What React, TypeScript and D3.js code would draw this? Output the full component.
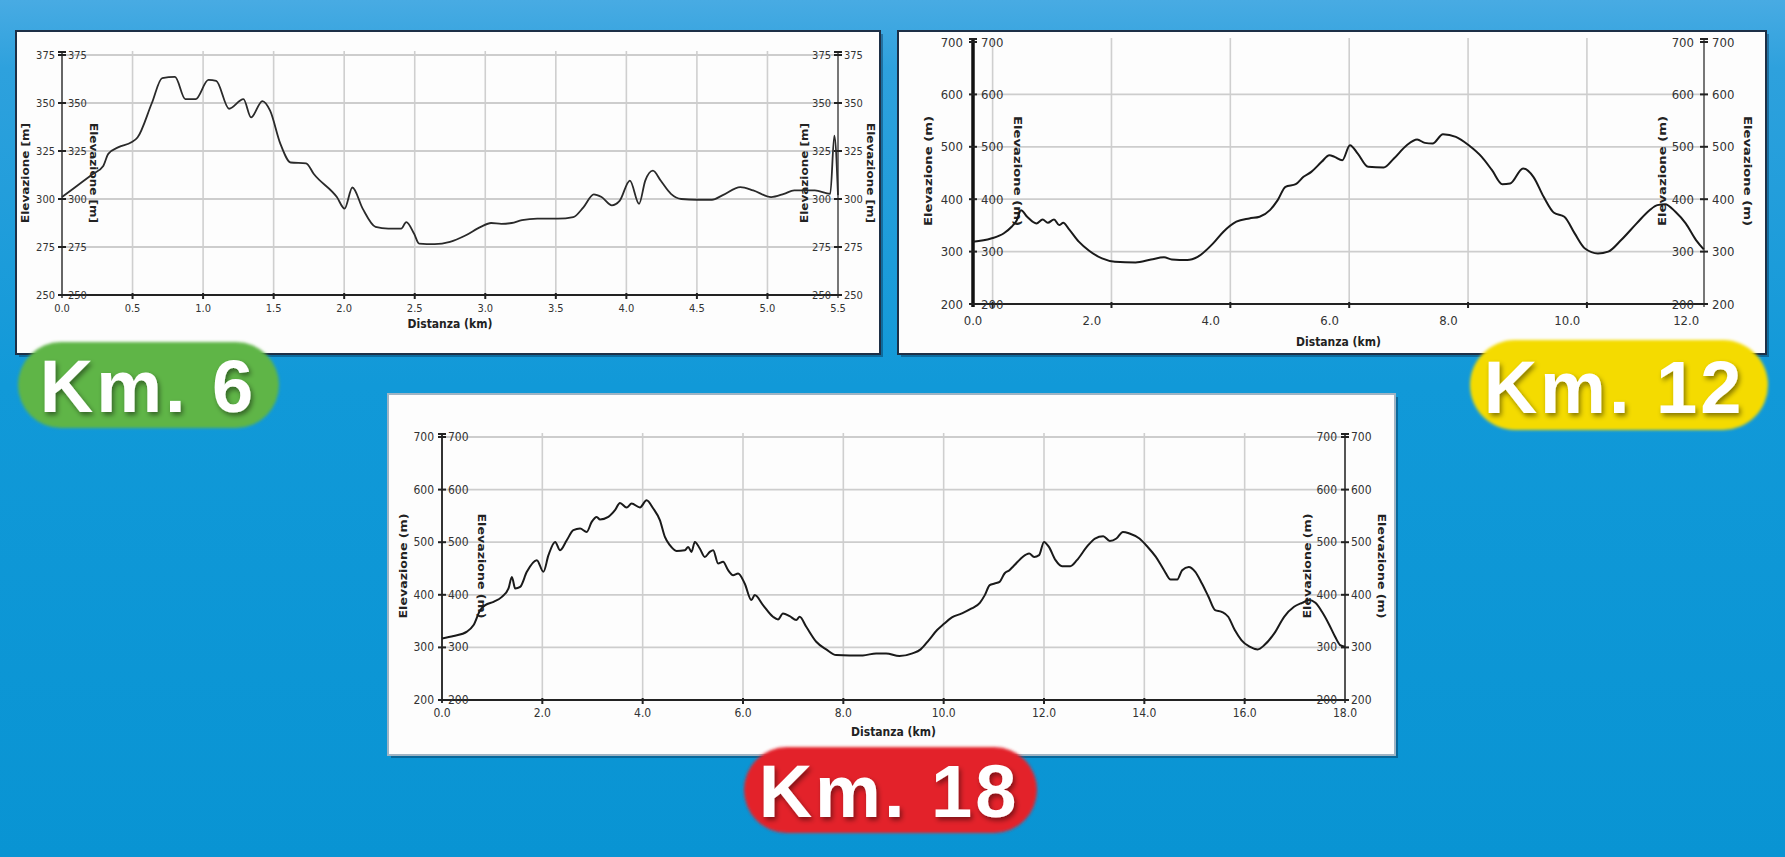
import React from 'react';
import * as d3 from 'd3';

// ---------- DATA ----------
const km6Distance = [
  0, 0.091, 0.219, 0.291, 0.328, 0.401, 0.492, 0.535, 0.637, 0.71,
  0.801, 0.874, 0.947, 1.038, 1.093, 1.184, 1.286, 1.34, 1.42, 1.475,
  1.548, 1.621, 1.73, 1.785, 1.948, 2.003, 2.058, 2.131, 2.222, 2.313,
  2.404, 2.44, 2.495, 2.531, 2.641, 2.75, 2.859, 2.968, 3.041, 3.114,
  3.187, 3.26, 3.369, 3.515, 3.624, 3.697, 3.769, 3.824, 3.897, 3.952,
  4.025, 4.09, 4.134, 4.188, 4.243, 4.316, 4.389, 4.498, 4.607, 4.68,
  4.808, 4.899, 5.026, 5.117, 5.19, 5.336, 5.445, 5.474, 5.5,
];
const km6Elevation = [
  301, 306, 313, 317, 323.5, 327, 329.5, 332, 350, 363,
  363.6, 352, 352, 362, 361.5, 347, 352, 342.5, 351, 346,
  328.7, 319, 318.6, 313, 301, 295, 306, 295, 285.5, 284.6,
  284.6, 288, 282, 276.8, 276.5, 277.7, 281, 285.5, 287.5, 287,
  287.5, 289, 289.8, 289.8, 290.6, 295.8, 302.4, 301, 296.7, 299,
  309.6, 297.5, 309.6, 314.8, 309.6, 302.7, 300, 299.6, 299.6, 301.9,
  306.2, 304.5, 301, 302.7, 304.5, 304.5, 302.7, 333, 302,
];

const km12Distance = [
  0, 0.303, 0.52, 0.65, 0.737, 0.807, 0.911, 1.067, 1.172, 1.259,
  1.363, 1.45, 1.519, 1.607, 1.78, 1.954, 2.171, 2.388, 2.736, 2.997,
  3.214, 3.345, 3.606, 3.78, 4.04, 4.214, 4.431, 4.649, 4.822, 4.996,
  5.127, 5.258, 5.431, 5.561, 5.692, 5.866, 5.996, 6.083, 6.213, 6.343,
  6.474, 6.648, 6.909, 7.082, 7.299, 7.473, 7.603, 7.734, 7.908, 8.125,
  8.342, 8.56, 8.733, 8.907, 9.038, 9.255, 9.429, 9.602, 9.776, 9.95,
  10.124, 10.297, 10.515, 10.689, 10.906, 11.167, 11.384, 11.514, 11.645, 11.819,
  11.992, 12.166, 12.296,
];
const km12Elevation = [
  319, 325, 335, 347.4, 360, 379, 366.5, 353.8, 361.4, 355,
  361.4, 350.6, 355, 344, 319, 301.7, 287, 280.7, 279.4, 285,
  289, 285, 284, 290, 315.6, 337.9, 357, 363.3, 366.5, 379.2,
  398.2, 423.6, 428.7, 442.7, 452.2, 471.3, 484, 480.8, 474.4, 503,
  487, 461.8, 460.5, 477.6, 503, 513.8, 507.5, 506.2, 524, 519,
  503, 480.8, 455.4, 428.7, 430, 458.6, 442.7, 404.6, 374, 366.5,
  334.7, 306, 296.6, 300, 322, 353.8, 379, 388.7, 390.6, 376,
  353.8, 322, 304.2,
];

const km18Distance = [
  0, 0.232, 0.497, 0.63, 0.763, 0.862, 1.028, 1.194, 1.326, 1.393,
  1.459, 1.558, 1.691, 1.89, 2.022, 2.122, 2.255, 2.354, 2.487, 2.619,
  2.752, 2.885, 2.984, 3.084, 3.15, 3.316, 3.448, 3.548, 3.68, 3.78,
  3.946, 4.078, 4.211, 4.343, 4.443, 4.542, 4.675, 4.841, 4.907, 4.973,
  5.04, 5.139, 5.239, 5.338, 5.405, 5.504, 5.603, 5.703, 5.802, 5.902,
  6.034, 6.167, 6.233, 6.399, 6.598, 6.698, 6.797, 6.93, 7.062, 7.129,
  7.261, 7.46, 7.659, 7.858, 8.123, 8.389, 8.654, 8.853, 9.118, 9.377,
  9.541, 9.705, 9.869, 10.0, 10.164, 10.361, 10.557, 10.721, 10.82, 10.918,
  11.016, 11.115, 11.213, 11.311, 11.377, 11.475, 11.574, 11.705, 11.803, 11.902,
  12.0, 12.098, 12.23, 12.361, 12.525, 12.656, 12.852, 13.016, 13.18, 13.311,
  13.443, 13.574, 13.705, 13.902, 14.066, 14.23, 14.393, 14.525, 14.656, 14.754,
  14.885, 15.016, 15.148, 15.279, 15.41, 15.541, 15.672, 15.803, 15.934, 16.098,
  16.262, 16.393, 16.59, 16.787, 16.984, 17.148, 17.279, 17.41, 17.541, 17.672,
  17.803, 17.902, 18.0,
];
const km18Elevation = [
  317, 321.5, 330, 342.4, 371, 380.4, 386.7, 396, 412, 434,
  412, 415, 443.7, 465.8, 443.7, 475.3, 500.6, 484.8, 503.8, 522.8,
  526, 519.6, 538.6, 548, 543, 548, 560.8, 574.7, 566, 573.4,
  566, 579.7, 564, 541.8, 510, 494.3, 483.5, 484.8, 491, 481.6,
  500.6, 488, 472, 481.6, 484.8, 459.5, 462.7, 446.8, 437.3, 440.5,
  421.5, 389.9, 399.4, 380.4, 358.2, 353.2, 364.6, 359.5, 352, 358.2,
  339.2, 310.8, 296.2, 285.4, 284.8, 284.8, 288.6, 288.6, 283.5, 288.6,
  296.2, 314, 333, 344.3, 357, 364.6, 374, 384.8, 399.4, 418.4,
  421.5, 424.7, 440.5, 446.8, 453, 462.7, 472, 478.5, 472, 475.3,
  500.6, 491, 465.8, 454.4, 454.4, 465.8, 491, 507, 511.4, 502.5,
  507, 519.6, 516.5, 507, 491, 472, 446.8, 429, 429, 446.8,
  453, 443.7, 421.5, 396.2, 371, 367.7, 358.2, 332.9, 314, 301.3,
  296.2, 304.4, 326.6, 358.2, 377.2, 384.8, 389.9, 384.8, 367.7, 345.6,
  320.3, 304.4, 301.3,
];

const km6YTicks = [250, 275, 300, 325, 350, 375];
const km6XTicks = [0, 0.5, 1, 1.5, 2, 2.5, 3, 3.5, 4, 4.5, 5, 5.5];
const km12YTicks = [200, 300, 400, 500, 600, 700];
const km12XTicks = [0, 2, 4, 6, 8, 10, 12];
const km18YTicks = [200, 300, 400, 500, 600, 700];
const km18XTicks = [0, 2, 4, 6, 8, 10, 12, 14, 16, 18];

const routeLabels = ['Km. 6', 'Km. 12', 'Km. 18'];
const elevationTitles = ['Elevazione [m]', 'Elevazione (m)', 'Elevazione (m)'];
const distanceTitle = 'Distanza (km)';

// ---------- LAYOUT ----------
const NARROW = "'Liberation Sans Narrow','Arial Narrow','DejaVu Sans Condensed','Liberation Sans',sans-serif";

type PanelCfg = {
  box: [number, number, number, number];
  left: number; right: number; top: number; bottom: number;
  xDomain: [number, number];
  yDomain: [number, number];
  xTicks: number[]; yTicks: number[];
  distance: number[]; elevation: number[];
  gridShift: number;
  topGrid: boolean;
  title: string;
  titleCY: number; titleLen: number;
  titleX: [number, number, number, number];
  labelSize: number; xLabelSize: number; xLabelY: number; xTitleY: number;
  labelGapL: number; labelGapR: number;
  leftAxisW: number; leftAxisColor: string; rightAxisColor: string;
  lineW: number; lineColor: string;
  boxStroke: string;
};

const panels: PanelCfg[] = [
  {
    box: [16, 31, 864, 323],
    left: 62, right: 838, top: 55, bottom: 295,
    xDomain: [0, 5.5], yDomain: [250, 375],
    xTicks: km6XTicks, yTicks: km6YTicks,
    distance: km6Distance, elevation: km6Elevation,
    gridShift: 0, topGrid: true,
    title: elevationTitles[0], titleCY: 173, titleLen: 100,
    titleX: [25, 93, 804, 870],
    labelSize: 11, xLabelSize: 11, xLabelY: 312, xTitleY: 328,
    labelGapL: 7, labelGapR: 6,
    leftAxisW: 2, leftAxisColor: '#666', rightAxisColor: '#777',
    lineW: 1.8, lineColor: '#2a2a2a', boxStroke: '#1d3047',
  },
  {
    box: [898, 31, 868, 323],
    left: 973, right: 1704, top: 42, bottom: 304,
    xDomain: [0, 12.3], yDomain: [200, 700],
    xTicks: km12XTicks, yTicks: km12YTicks,
    distance: km12Distance, elevation: km12Elevation,
    gridShift: 0.33, topGrid: false,
    title: elevationTitles[1], titleCY: 171, titleLen: 110,
    titleX: [928, 1017, 1662, 1747],
    labelSize: 13, xLabelSize: 13, xLabelY: 325, xTitleY: 346,
    labelGapL: 10, labelGapR: 8,
    leftAxisW: 3.5, leftAxisColor: '#111', rightAxisColor: '#777',
    lineW: 2, lineColor: '#1a1a1a', boxStroke: '#1d3047',
  },
  {
    box: [388, 394, 1007, 361],
    left: 442, right: 1345, top: 437, bottom: 700,
    xDomain: [0, 18], yDomain: [200, 700],
    xTicks: km18XTicks, yTicks: km18YTicks,
    distance: km18Distance, elevation: km18Elevation,
    gridShift: 0, topGrid: true,
    title: elevationTitles[2], titleCY: 566, titleLen: 105,
    titleX: [403, 481, 1307, 1381],
    labelSize: 12, xLabelSize: 12, xLabelY: 717, xTitleY: 736,
    labelGapL: 8, labelGapR: 6,
    leftAxisW: 2, leftAxisColor: '#333', rightAxisColor: '#555',
    lineW: 2, lineColor: '#1a1a1a', boxStroke: '#9fb4c4',
  },
];

const pills = [
  { label: routeLabels[0], x: 18, y: 342, w: 261, h: 86, fill: '#5fb547', cx: 148, base: 412 },
  { label: routeLabels[1], x: 1470, y: 340, w: 298, h: 90, fill: '#f4db00', cx: 1614, base: 413 },
  { label: routeLabels[2], x: 744, y: 747, w: 293, h: 86, fill: '#e3202a', cx: 889, base: 817 },
];

function Panel({ c }: { c: PanelCfg }) {
  const x = d3.scaleLinear().domain(c.xDomain).range([c.left, c.right]);
  const y = d3.scaleLinear().domain(c.yDomain).range([c.bottom, c.top]);
  const pts: [number, number][] = c.distance.map((d, i) => [d, c.elevation[i]]);
  const line = d3
    .line<[number, number]>()
    .x((d) => x(d[0]))
    .y((d) => y(d[1]))
    .curve(d3.curveMonotoneX);
  const fmtX = d3.format('.1f');
  const [bx, by, bw, bh] = c.box;
  const gridXs = c.xTicks
    .map((t) => x(t + c.gridShift))
    .filter((px) => px > c.left + 3 && px < c.right - 3);
  const hGrid = c.yTicks.filter((t, i) => i > 0 && (c.topGrid || i < c.yTicks.length - 1));
  const midX = (c.left + c.right) / 2;

  const vTitle = (tx: number, rot: number, key: string) => (
    <text
      key={key}
      transform={`translate(${tx},${c.titleCY}) rotate(${rot})`}
      textAnchor="middle"
      dominantBaseline="central"
      fontFamily={NARROW}
      fontWeight="bold"
      fontSize={11}
      fill="#222"
      textLength={c.titleLen}
      lengthAdjust="spacingAndGlyphs"
    >
      {c.title}
    </text>
  );

  const axisLabels = (ax: number, key: string) =>
    c.yTicks.map((t) => (
      <g key={key + t}>
        <text
          x={ax - c.labelGapL}
          y={y(t)}
          textAnchor="end"
          dominantBaseline="central"
          fontFamily={NARROW}
          fontSize={c.labelSize}
          fill="#333"
        >
          {t}
        </text>
        <text
          x={ax + c.labelGapR}
          y={y(t)}
          textAnchor="start"
          dominantBaseline="central"
          fontFamily={NARROW}
          fontSize={c.labelSize}
          fill="#333"
        >
          {t}
        </text>
        <line x1={ax - 4} x2={ax + 4} y1={y(t)} y2={y(t)} stroke="#222" strokeWidth={2} />
      </g>
    ));

  return (
    <g>
      <rect x={bx + 3} y={by + 3} width={bw} height={bh} fill="rgba(0,20,50,0.35)" />
      <rect x={bx} y={by} width={bw} height={bh} fill="#fdfdfd" stroke={c.boxStroke} strokeWidth={2} />
      {/* grid */}
      {gridXs.map((gx, i) => (
        <line key={'vg' + i} x1={gx} x2={gx} y1={c.top - 4} y2={c.bottom} stroke="#cfcfcf" strokeWidth={1.6} />
      ))}
      {hGrid.map((t) => (
        <line key={'hg' + t} x1={c.left} x2={c.right} y1={y(t)} y2={y(t)} stroke="#cdcdcd" strokeWidth={1.8} />
      ))}
      <line x1={c.left} x2={c.right} y1={c.bottom} y2={c.bottom} stroke="#222" strokeWidth={2.2} />
      {gridXs.map((gx, i) => (
        <line key={'xt' + i} x1={gx} x2={gx} y1={c.bottom - 2} y2={c.bottom + 4} stroke="#222" strokeWidth={2} />
      ))}
      {/* axes */}
      <line x1={c.left} x2={c.left} y1={c.top - 3} y2={c.bottom + 3} stroke={c.leftAxisColor} strokeWidth={c.leftAxisW} />
      <line x1={c.right} x2={c.right} y1={c.top - 3} y2={c.bottom + 3} stroke={c.rightAxisColor} strokeWidth={2} />
      <line x1={c.left - 4} x2={c.left + 4} y1={c.top - 3} y2={c.top - 3} stroke="#222" strokeWidth={2} />
      <line x1={c.right - 4} x2={c.right + 4} y1={c.top - 3} y2={c.top - 3} stroke="#222" strokeWidth={2} />
      {axisLabels(c.left, 'l')}
      {axisLabels(c.right, 'r')}
      {/* titles */}
      {vTitle(c.titleX[0], -90, 't0')}
      {vTitle(c.titleX[1], 90, 't1')}
      {vTitle(c.titleX[2], -90, 't2')}
      {vTitle(c.titleX[3], 90, 't3')}
      {/* x labels */}
      {c.xTicks.map((t) => (
        <text
          key={'xl' + t}
          x={x(t)}
          y={c.xLabelY}
          textAnchor="middle"
          fontFamily={NARROW}
          fontSize={c.xLabelSize}
          fill="#333"
        >
          {fmtX(t)}
        </text>
      ))}
      <text x={midX} y={c.xTitleY} textAnchor="middle" fontFamily={NARROW} fontWeight="bold" fontSize={12} fill="#222">
        {distanceTitle}
      </text>
      {/* profile */}
      <path d={line(pts) || ''} fill="none" stroke={c.lineColor} strokeWidth={c.lineW} strokeLinejoin="round" />
    </g>
  );
}

export default function App() {
  return (
    <svg
      width={1785}
      height={857}
      viewBox="0 0 1785 857"
      style={{ position: 'absolute', left: 0, top: 0, display: 'block' }}
    >
      <defs>
        <linearGradient id="bg" x1="0" y1="0" x2="0" y2="1">
          <stop offset="0" stopColor="#48abe3" />
          <stop offset="0.08" stopColor="#2ea1dd" />
          <stop offset="0.45" stopColor="#1199d8" />
          <stop offset="1" stopColor="#0994d3" />
        </linearGradient>
        <filter id="soft" x="-10%" y="-20%" width="120%" height="140%">
          <feGaussianBlur stdDeviation="1.5" />
        </filter>
        <filter id="tshadow" x="-10%" y="-20%" width="130%" height="150%">
          <feDropShadow dx="2" dy="3" stdDeviation="2.5" floodColor="#000" floodOpacity="0.45" />
        </filter>
      </defs>
      <rect x={0} y={0} width={1785} height={857} fill="url(#bg)" />
      {panels.map((p, i) => (
        <Panel key={i} c={p} />
      ))}
      {pills.map((p) => (
        <g key={p.label}>
          <rect x={p.x} y={p.y} width={p.w} height={p.h} rx={p.h / 2} ry={p.h / 2} fill={p.fill} filter="url(#soft)" />
          <text
            x={p.cx}
            y={p.base}
            textAnchor="middle"
            fontFamily="'Liberation Sans', Arial, Helvetica, sans-serif"
            fontWeight="bold"
            fontSize={74}
            letterSpacing={3}
            fill="#ffffff"
            filter="url(#tshadow)"
          >
            {p.label}
          </text>
        </g>
      ))}
    </svg>
  );
}
